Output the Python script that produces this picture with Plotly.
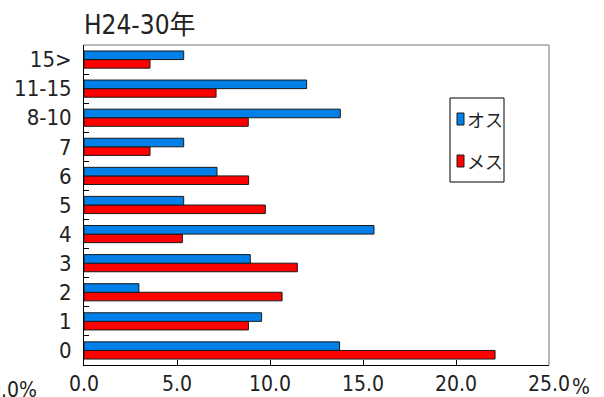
import plotly.graph_objects as go

categories = ["0", "1", "2", "3", "4", "5", "6", "7", "8-10", "11-15", "15>"]
male = [13.74, 9.55, 2.95, 8.94, 15.59, 5.36, 7.15, 5.36, 13.78, 11.97, 5.36]
female = [22.1, 8.84, 10.65, 11.47, 5.29, 9.75, 8.85, 3.55, 8.83, 7.10, 3.55]
x_ticks = [0, 5, 10, 15, 20, 25]
x_ticktext = ["0.0", "5.0", "10.0", "15.0", "20.0", "25.0"]
series_names = ["オス", "メス"]
colors = ["#0080e8", "#ff0000"]

FONT = "DejaVu Sans Condensed, DejaVu Sans, Noto Sans CJK JP, sans-serif"
JFONT = "Noto Sans CJK JP, sans-serif"
TXT = "#222222"

fig = go.Figure()
fig.add_trace(go.Bar(y=categories, x=female, orientation="h", name=series_names[1],
                     marker=dict(color=colors[1], line=dict(color="#1a1a1a", width=1)),
                     showlegend=False))
fig.add_trace(go.Bar(y=categories, x=male, orientation="h", name=series_names[0],
                     marker=dict(color=colors[0], line=dict(color="#1a1a1a", width=1)),
                     showlegend=False))

fig.update_layout(
    width=604, height=397,
    margin=dict(l=84, r=55, t=45, b=32),
    paper_bgcolor="white", plot_bgcolor="white",
    barmode="group", bargap=0.41, bargroupgap=0,
    font=dict(family=FONT, size=22, color=TXT),
    xaxis=dict(range=[0, 25], tickvals=x_ticks, ticktext=x_ticktext, automargin=False,
               showgrid=False, zeroline=False, showline=True, linecolor="black",
               linewidth=1, ticks="inside", ticklen=5, tickcolor="black",
               ticklabelstandoff=0, tickfont=dict(size=21)),
    yaxis=dict(showgrid=False, zeroline=False, showline=True, linecolor="black",
               linewidth=1, ticks="inside", ticklen=5, tickcolor="black", automargin=False,
               tickson="boundaries", ticklabelstandoff=7, tickfont=dict(size=22)),
    showlegend=False,
)

# top/right gray frame
fig.add_shape(type="line", xref="paper", yref="paper", x0=0, x1=1, y0=1, y1=1,
              line=dict(color="#a0a0a0", width=1.5))
fig.add_shape(type="line", xref="paper", yref="paper", x0=1, x1=1, y0=0, y1=1,
              line=dict(color="#a0a0a0", width=1.5))

# title
fig.add_annotation(text="H24-30年", xref="paper", yref="paper", x=-0.005, y=1.0,
                   xanchor="left", yanchor="bottom", yshift=3, showarrow=False,
                   font=dict(size=26, color=TXT))

# percent labels
fig.add_annotation(text="%", xref="paper", yref="paper", x=1.0, y=0,
                   xanchor="left", yanchor="top", xshift=21, yshift=-8,
                   showarrow=False, font=dict(size=21, color=TXT))
fig.add_annotation(text="0.0%", xref="paper", yref="paper", x=0, y=0,
                   xanchor="right", yanchor="top", xshift=-45, yshift=-11,
                   showarrow=False, font=dict(size=21, color=TXT))

# manual legend
W, H = 465.0, 320.0
def px(x):
    return (x - 84) / W
def py(y):
    return 1 - (y - 45) / H

fig.add_shape(type="rect", xref="paper", yref="paper",
              x0=px(450), x1=px(504), y0=py(182), y1=py(98),
              line=dict(color="black", width=1), fillcolor="white")
for name, col, yc in zip(series_names, colors, [119, 161]):
    fig.add_shape(type="rect", xref="paper", yref="paper",
                  x0=px(457), x1=px(464), y0=py(yc + 6), y1=py(yc - 6),
                  line=dict(color="#1a1a1a", width=1), fillcolor=col)
    fig.add_annotation(text=name, xref="paper", yref="paper", x=px(465), y=py(yc),
                       xanchor="left", yanchor="middle", showarrow=False,
                       font=dict(family=JFONT, size=18, color=TXT))

fig.write_html("out.html", config={"displayModeBar": False},
               post_script="document.body.style.margin='0';document.body.style.overflow='hidden';")
